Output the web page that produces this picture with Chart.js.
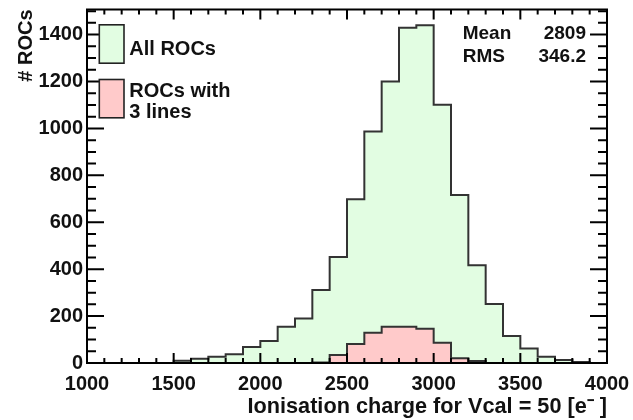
<!DOCTYPE html>
<html><head><meta charset="utf-8">
<script src="https://cdn.jsdelivr.net/npm/chart.js@4/dist/chart.umd.min.js"></script>
<style>html,body{margin:0;padding:0;background:#fff}#wrap{width:633px;height:420px}</style>
</head><body><div id="wrap"><canvas id="c" width="633" height="420"></canvas></div>
<script>
// ---- data ----
const binLow = [1000,1100,1200,1300,1400,1500,1600,1700,1800,1900,
                2000,2100,2200,2300,2400,2500,2600,2700,2800,2900,
                3000,3100,3200,3300,3400,3500,3600,3700,3800,3900];
const binWidth = 100;
const allROCs = [0,0,0,0,0,10,18,27,37,68,
                 94,155,190,311,452,698,987,1200,1429,1440,
                 1101,716,417,251,115,62,27,13,4,0];
const rocs3Lines = [0,0,0,0,0,0,0,0,0,0,
                    0,0,0,2,34,81,129,155,155,146,
                    86,20,8,0,0,0,0,0,0,0];
const xTickValues = [1000,1500,2000,2500,3000,3500,4000];
const yTickValues = [0,200,400,600,800,1000,1200,1400];
const seriesNames = [['All ROCs'], ['ROCs with','3 lines']];
const statsLabels = ['Mean','RMS'];
const statsValues = ['2809','346.2'];
const xTitle = 'Ionisation charge for Vcal = 50 [e\u207B ]';
const yTitle = '# ROCs';

const FONT = '"Liberation Sans", Arial, sans-serif';
const fillAll = '#e2fde2';
const fill3 = '#ffcaca';
const lineCol = '#333333';

function toSteps(vals) {
  const pts = binLow.map((x, i) => ({x: x, y: vals[i]}));
  pts.push({x: binLow[binLow.length - 1] + binWidth, y: vals[vals.length - 1]});
  return pts;
}

const framePlugin = {
  id: 'frame',
  afterDatasetsDraw(chart) {
    const {ctx, chartArea: a, scales: {x, y}} = chart;
    ctx.save();
    ctx.strokeStyle = '#000';
    ctx.lineWidth = 2;
    ctx.beginPath();
    for (let v = x.min; v <= x.max; v += 100) {
      const px = x.getPixelForValue(v);
      const len = (v % 500 === 0) ? 10 : 5;
      ctx.moveTo(px, a.bottom); ctx.lineTo(px, a.bottom - len);
      ctx.moveTo(px, a.top); ctx.lineTo(px, a.top + len);
    }
    for (let v = 0; v <= y.max; v += 50) {
      const py = y.getPixelForValue(v);
      const len = (v % 200 === 0) ? 17 : 9;
      ctx.moveTo(a.left, py); ctx.lineTo(a.left + len, py);
      ctx.moveTo(a.right, py); ctx.lineTo(a.right - len, py);
    }
    ctx.stroke();
    ctx.strokeRect(a.left, a.top, a.right - a.left, a.bottom - a.top);
    ctx.restore();
  }
};

const legendPlugin = {
  id: 'rootLegend',
  afterDraw(chart) {
    const {ctx, chartArea: a} = chart;
    const ds = chart.data.datasets;
    ctx.save();
    ctx.font = 'bold 20px ' + FONT;
    ctx.fillStyle = '#111';
    ctx.textBaseline = 'alphabetic';
    ctx.textAlign = 'left';
    const boxes = [
      {y0: a.top + 15.3, h: 38.4, lines: [a.top + 45]},
      {y0: a.top + 70, h: 38.3, lines: [a.top + 87.7, a.top + 108.3]}
    ];
    boxes.forEach((b, i) => {
      ctx.fillStyle = ds[i].backgroundColor;
      ctx.fillRect(a.left + 12.3, b.y0, 24.7, b.h);
      ctx.strokeStyle = '#222';
      ctx.lineWidth = 1.6;
      ctx.strokeRect(a.left + 12.3, b.y0, 24.7, b.h);
      ctx.fillStyle = '#111';
      seriesNames[i].forEach((t, k) => ctx.fillText(t, a.left + 42.3, b.lines[k]));
    });
    // stats
    ctx.font = 'bold 19px ' + FONT;
    const sy = [a.top + 29.3, a.top + 52.7];
    statsLabels.forEach((t, i) => {
      ctx.textAlign = 'left';
      ctx.fillText(t, 462.7, sy[i]);
      ctx.textAlign = 'right';
      ctx.fillText(statsValues[i], 586, sy[i]);
    });
    ctx.restore();
  }
};

new Chart(document.getElementById('c'), {
  type: 'line',
  data: {
    datasets: [
      {label: seriesNames[0].join(' '), data: toSteps(allROCs), stepped: true,
       borderColor: lineCol, borderWidth: 2, backgroundColor: fillAll, fill: 'origin',
       pointRadius: 0, order: 2},
      {label: seriesNames[1].join(' '), data: toSteps(rocs3Lines), stepped: true,
       borderColor: lineCol, borderWidth: 2, backgroundColor: fill3, fill: 'origin',
       pointRadius: 0, order: 1}
    ]
  },
  options: {
    responsive: false,
    animation: false,
    devicePixelRatio: 1,
    layout: {padding: {top: 9.5, right: 26, left: 0, bottom: 0}},
    plugins: {legend: {display: false}, tooltip: {enabled: false}},
    scales: {
      x: {
        type: 'linear', min: 1000, max: 4000,
        afterBuildTicks: s => { s.ticks = xTickValues.map(v => ({value: v})); },
        afterFit: s => { s.height = 57; s.paddingLeft = 0; s.paddingRight = 0; },
        grid: {display: false, drawTicks: false},
        border: {display: false},
        ticks: {color: '#111', padding: 9, maxRotation: 0, autoSkip: false,
                callback: v => String(v),
                font: {family: FONT, size: 20, weight: 'bold'}},
        title: {display: true, text: xTitle, align: 'end', color: '#111',
                padding: {top: 0, bottom: 0},
                font: {family: FONT, size: 21.7, weight: 'bold'}}
      },
      y: {
        type: 'linear', min: 0, max: 1507,
        afterBuildTicks: s => { s.ticks = yTickValues.map(v => ({value: v})); },
        afterFit: s => { s.width = 87; s.paddingTop = 0; s.paddingBottom = 0; },
        grid: {display: false, drawTicks: false},
        border: {display: false},
        ticks: {color: '#111', padding: 4, autoSkip: false,
                callback: v => String(v),
                font: {family: FONT, size: 20, weight: 'bold'}},
        title: {display: true, text: yTitle, align: 'end', color: '#111',
                padding: {top: 14, bottom: 0},
                font: {family: FONT, size: 20, weight: 'bold'}}
      }
    }
  },
  plugins: [framePlugin, legendPlugin]
});
</script></body></html>
